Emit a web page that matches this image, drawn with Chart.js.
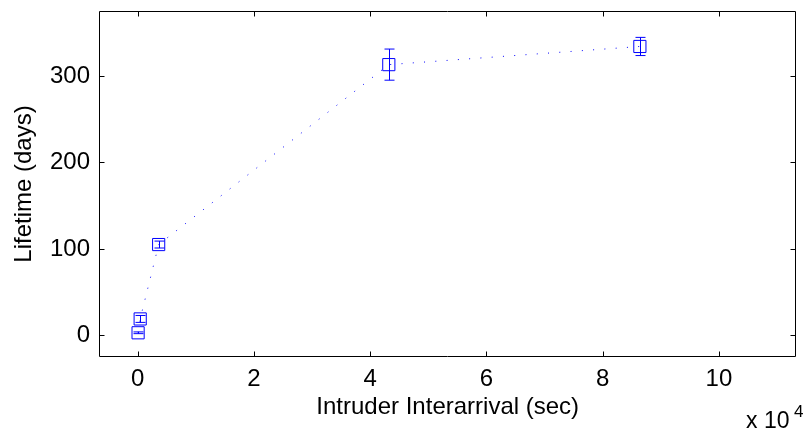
<!DOCTYPE html>
<html>
<head>
<meta charset="utf-8">
<script src="https://cdn.jsdelivr.net/npm/chart.js@4/dist/chart.umd.min.js"></script>
<style>
  html, body { margin: 0; padding: 0; background: #fff; }
  #wrap { width: 806px; height: 432px; }
</style>
</head>
<body>
<div id="wrap"><canvas id="lifeChart" width="806" height="432"></canvas></div>
<script>
// 데이터 (sec, days)
const interarrival = [60, 420, 3600, 43200, 86400];
const lifetime = [3, 19, 105, 313, 334];
const lifetimeErr = [1, 4, 4, 18, 10.5];

const xTickValues = [0, 20000, 40000, 60000, 80000, 100000];
const yTickValues = [0, 100, 200, 300];

const xTitle = 'Intruder Interarrival (sec)';
const yTitle = 'Lifetime (days)';

Chart.defaults.font.family = '"Liberation Sans", Arial, sans-serif';
Chart.defaults.font.size = 24;
Chart.defaults.color = '#000';

/**
 * 에러바 그리기
 */
const errorBarPlugin = {
	id: 'errorBars',
	afterDatasetsDraw(chart) {
		const ctx = chart.ctx;
		const xs = chart.scales.x, ys = chart.scales.y;
		ctx.save();
		ctx.strokeStyle = '#0000ff';
		ctx.lineWidth = 1;
		interarrival.forEach((xv, i) => {
			const px = Math.round(xs.getPixelForValue(xv)) + 0.5;
			const top = ys.getPixelForValue(lifetime[i] + lifetimeErr[i]);
			const bot = ys.getPixelForValue(lifetime[i] - lifetimeErr[i]);
			ctx.beginPath();
			ctx.moveTo(px, top); ctx.lineTo(px, bot);
			ctx.moveTo(px - 5, top); ctx.lineTo(px + 5, top);
			ctx.moveTo(px - 5, bot); ctx.lineTo(px + 5, bot);
			ctx.stroke();
		});
		ctx.restore();
	}
};

/**
 * 박스 + 안쪽 눈금 + x10^4
 */
const boxPlugin = {
	id: 'matlabBox',
	afterDraw(chart) {
		const ctx = chart.ctx;
		const a = chart.chartArea;
		const xs = chart.scales.x, ys = chart.scales.y;
		const L = Math.round(a.left) + 0.5, R = Math.round(a.right) - 0.5;
		const T = Math.round(a.top) + 0.5, B = Math.round(a.bottom) - 0.5;
		const tl = 5;
		ctx.save();
		ctx.strokeStyle = '#000';
		ctx.lineWidth = 1;
		ctx.beginPath();
		ctx.rect(L, T, R - L, B - T);
		xTickValues.forEach(v => {
			const px = Math.round(xs.getPixelForValue(v)) + 0.5;
			ctx.moveTo(px, B); ctx.lineTo(px, B - tl);
			ctx.moveTo(px, T); ctx.lineTo(px, T + tl);
		});
		yTickValues.forEach(v => {
			const py = Math.round(ys.getPixelForValue(v)) + 0.5;
			ctx.moveTo(L, py); ctx.lineTo(L + tl, py);
			ctx.moveTo(R, py); ctx.lineTo(R - tl, py);
		});
		ctx.stroke();

		ctx.fillStyle = '#000';
		ctx.textBaseline = 'alphabetic';
		ctx.font = '23px "Liberation Sans", Arial, sans-serif';
		ctx.fillText('x 10', 746, 428);
		ctx.font = '17px "Liberation Sans", Arial, sans-serif';
		ctx.fillText('4', 794, 417);
		ctx.restore();
	}
};

let lifeChart = new Chart(document.getElementById('lifeChart'), {
	type: 'line',
	data: {
		datasets: [{
			data: interarrival.map((x, i) => ({ x: x, y: lifetime[i] })),
			borderColor: '#0000ff',
			backgroundColor: 'rgba(0,0,0,0)',
			borderWidth: 1,
			borderDash: [1, 10.3],
			tension: 0,
			fill: false,
			pointStyle: 'rect',
			pointRadius: 8.6,
			pointBorderWidth: 1,
			pointBorderColor: '#0000ff',
			pointBackgroundColor: 'rgba(0,0,0,0)'
		}]
	},
	options: {
		responsive: false,
		maintainAspectRatio: false,
		animation: false,
		events: [],
		layout: { padding: { top: 11, right: 4, left: 0, bottom: 0 } },
		plugins: { legend: { display: false }, tooltip: { enabled: false } },
		scales: {
			x: {
				type: 'linear',
				min: -6667,
				max: 113333,
				grid: { display: false, drawTicks: false },
				border: { display: false },
				afterBuildTicks: s => { s.ticks = xTickValues.map(v => ({ value: v })); },
				afterFit: s => { s.height = 75; s.paddingLeft = 0; s.paddingRight = 0; },
				ticks: {
					padding: 8,
					maxRotation: 0,
					autoSkip: false,
					callback: v => String(v / 10000)
				},
				title: { display: true, text: xTitle, padding: { top: 0, bottom: 10 } }
			},
			y: {
				type: 'linear',
				min: -25,
				max: 375,
				grid: { display: false, drawTicks: false },
				border: { display: false },
				afterBuildTicks: s => { s.ticks = yTickValues.map(v => ({ value: v })); },
				afterFit: s => { s.width = 99; s.paddingTop = 0; s.paddingBottom = 0; },
				ticks: { padding: 9, autoSkip: false },
				title: { display: true, text: yTitle, padding: { top: 10, bottom: 0 } }
			}
		}
	},
	plugins: [errorBarPlugin, boxPlugin]
});
</script>
</body>
</html>
